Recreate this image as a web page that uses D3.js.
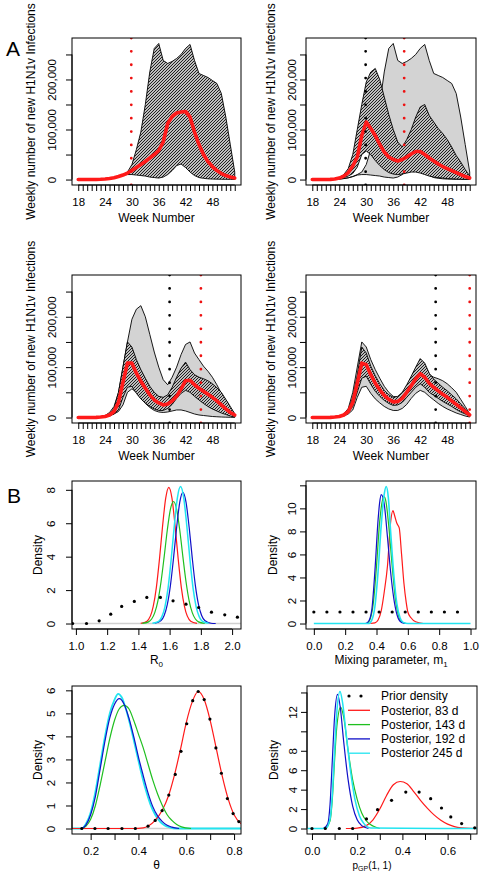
<!DOCTYPE html>
<html><head><meta charset="utf-8">
<script src="https://d3js.org/d3.v7.min.js"></script>
<style>html,body{margin:0;padding:0;background:#fff}svg{display:block}</style>
</head><body>
<svg id="chart" width="486" height="874"></svg>
<script>
// ================= DATA =================
const weeks = [18,19,20,21,22,23,24,25,26,27,28,29,30,31,32,33,34,35,36,37,38,39,40,41,42,43,44,45,46,47,48,49,50,51,52,53];
// weekly new infections, thousands
const fit1Med = [0,0,0,0,0.2,0.5,1,2,3.5,6,9,13,18,24,30,36,43,50,58,75,112,126,133,135,136,125,95,70,50,36,26,18,12,8,5,3];
const fit1Lo  = [0,0,0,0,0.2,0.5,1,2,3.5,6,9,10,10,9,8,7,5,4,3,5,10,18,28,31,24,15,8,4,2.5,1.5,1,0.8,0.6,0.5,0.4,0.3];
const fit1Hi  = [0,0,0,0,0.2,0.5,1,2,3.5,6,10,15,30,60,95,150,215,262,272,238,232,236,242,250,262,270,238,212,208,204,198,192,172,125,70,15];
const fit2Med = [0,0,0,0,0.3,1,3,7,14,27,45,88,115,102,88,70,55,45,40,37,40,45,51,56,56,50,43,37,31,26,22,18,14,10,6,3];
const fit2Lo  = [0,0,0,0,0.3,0.6,2,4,7,12,25,50,57,50,38,28,20,14,11,10,11,13,15,15,13,10,7,5,4,3,2,1.5,1,0.7,0.5,0.3];
const fit2Hi  = [0,0,0,0,0.3,1.5,4,10,22,50,100,150,195,215,222,200,165,130,100,75,65,80,100,125,145,150,128,115,102,92,80,65,48,35,20,7];
const fit3Med = [0,0,0,0,0.3,1,2,5,12,30,70,108,108,88,72,58,45,35,29,25,27,33,42,57,73,74,65,58,52,46,40,33,25,17,10,5];
const fit3Lo  = [0,0,0,0,0.3,0.7,1.5,3,7,15,40,60,62,48,37,29,22,17,14,14,18,26,38,48,54,50,42,35,28,22,17,13,9,6,3,1];
const fit3Hi  = [0,0,0,0,0.3,1.2,3,7,18,50,100,150,140,115,95,78,62,50,42,40,45,60,80,98,110,95,85,80,77,73,67,59,50,36,22,7];
const fit4Med = [0,0,0,0,0.3,1,2,5,12,30,68,108,105,85,68,55,44,36,31,32,38,50,63,77,87,80,68,60,53,46,40,33,26,19,12,5];
const fit4Lo  = [0,0,0,0,0.3,0.8,1.5,4,9,22,50,78,82,66,52,42,34,28,24,25,30,40,50,60,67,60,50,44,38,32,27,22,16,11,7,3];
const fit4Hi  = [0,0,0,0,0.3,1.2,2.5,6,15,40,85,140,128,102,83,67,54,45,40,42,50,65,82,100,117,108,88,76,68,60,53,45,37,27,17,7];
const cutWeeks = [29.86, 38.43, 45.43, 53.0];   // days 83, 143, 192, 245
const yTicksA = [0,50,100,150,200,250];
const yLabelsA = {0:"0",100:"100,000",200:"200,000"};
const xLabelsA = [18,24,30,36,42,48];

// Panel B
const r0PriorX = [0.979,1.068,1.149,1.223,1.293,1.374,1.454,1.541,1.622,1.705,1.786,1.868,1.953,2.034];
const r0PriorY = [0,0,0.16,0.56,1.02,1.32,1.56,1.56,1.36,1.16,0.96,0.68,0.52,0.38];
const r0RedX = [1.415,1.455,1.495,1.515,1.535,1.555,1.575,1.595,1.615,1.635,1.655,1.675,1.695,1.735,1.775];
const r0RedY = [0.01,0.14,1.02,2.15,3.85,5.84,7.50,8.15,7.50,5.84,3.85,2.15,1.02,0.14,0.01];
const r0GreenX = [1.425,1.465,1.485,1.505,1.525,1.545,1.565,1.585,1.605,1.625,1.645,1.665,1.685,1.705,1.725,1.745,1.765,1.785,1.825];
const r0GreenY = [0.01,0.10,0.27,0.65,1.36,2.50,3.99,5.58,6.83,7.30,6.83,5.58,3.99,2.50,1.36,0.65,0.27,0.10,0.01];
const r0BlueX = [1.505,1.545,1.565,1.585,1.605,1.625,1.645,1.665,1.685,1.705,1.725,1.745,1.765,1.785,1.805,1.825,1.865,1.895];
const r0BlueY = [0.015,0.18,0.48,1.13,2.27,3.91,5.76,7.26,7.85,7.26,5.76,3.91,2.27,1.13,0.48,0.18,0.015,0];
const r0CyanX = [1.49,1.53,1.55,1.57,1.59,1.61,1.63,1.65,1.67,1.69,1.71,1.73,1.75,1.77,1.79,1.81,1.85];
const r0CyanY = [0.01,0.13,0.40,1.0,2.12,3.84,5.85,7.54,8.2,7.54,5.85,3.84,2.12,1.0,0.40,0.13,0.01];

const m1PriorX = [0,0.0833,0.1667,0.25,0.3333,0.4167,0.5,0.5833,0.6667,0.75,0.8333,0.9167];
const m1PriorY = [1,1,1,1,1,1,1,1,1,1,1,1];
const m1RedX = [0.36,0.39,0.41,0.43,0.45,0.47,0.49,0.505,0.515,0.53,0.545,0.56,0.575,0.59,0.60,0.62,0.65,0.70];
const m1RedY = [0,0.05,0.3,1.1,2.8,5.0,8.8,9.8,9.4,8.7,8.3,6.0,3.5,1.8,1.0,0.5,0.15,0];
const m1GreenX = [0.34,0.36,0.38,0.40,0.42,0.44,0.45,0.46,0.48,0.50,0.52,0.54,0.56,0.59];
const m1GreenY = [0,0.4,1.8,5.0,8.8,10.8,11.0,10.6,8.2,5.0,2.2,0.7,0.15,0];
const m1BlueX = [0.33,0.35,0.37,0.39,0.41,0.42,0.43,0.44,0.45,0.47,0.49,0.51,0.53,0.55,0.58];
const m1BlueY = [0,0.2,1.2,4.6,9.0,10.5,11.2,11.0,10.3,7.5,4.5,2.2,0.8,0.2,0];
const m1CyanX = [0,0.35,0.37,0.39,0.41,0.43,0.45,0.462,0.475,0.49,0.51,0.53,0.55,0.57,0.60,1.0];
const m1CyanY = [0,0,0.3,1.5,4.5,8.5,11.3,11.9,11.0,8.0,4.3,1.7,0.5,0.1,0,0];

const thPriorX = [0.163,0.218,0.273,0.331,0.387,0.44,0.47,0.499,0.527,0.554,0.578,0.602,0.627,0.65,0.675,0.699,0.724,0.747,0.772,0.796,0.82];
const thPriorY = [0,0,0,0,0,0.1,0.35,0.78,1.45,2.35,3.35,4.55,5.55,5.95,5.6,4.75,3.5,2.4,1.3,0.65,0.3];
const thRedX = [0.12,0.30,0.38,0.42,0.44,0.47,0.50,0.525,0.55,0.575,0.60,0.625,0.65,0.675,0.70,0.725,0.75,0.775,0.80,0.83];
const thRedY = [0,0,0,0.03,0.1,0.35,0.8,1.4,2.3,3.4,4.6,5.5,5.95,5.6,4.7,3.5,2.3,1.3,0.6,0.2];
const thGreenX = [0.16,0.18,0.20,0.22,0.24,0.26,0.28,0.30,0.32,0.34,0.36,0.38,0.40,0.42,0.44,0.46,0.48,0.50,0.52,0.54,0.56,0.58,0.62];
const thGreenY = [0,0.1,0.4,1.0,1.9,2.9,3.9,4.7,5.2,5.35,5.2,4.7,4.1,3.5,2.8,2.1,1.5,1.0,0.6,0.35,0.17,0.07,0];
const thBlueX = [0.16,0.18,0.20,0.22,0.24,0.26,0.28,0.30,0.32,0.34,0.36,0.38,0.40,0.42,0.44,0.46,0.48,0.50,0.52,0.54,0.57];
const thBlueY = [0,0.15,0.6,1.4,2.6,3.8,4.8,5.4,5.64,5.4,4.8,4.0,3.1,2.3,1.55,0.95,0.55,0.3,0.14,0.06,0];
const thCyanX = [0.12,0.16,0.18,0.20,0.22,0.24,0.26,0.28,0.30,0.315,0.33,0.35,0.37,0.39,0.41,0.43,0.45,0.47,0.49,0.51,0.53,0.56,0.83];
const thCyanY = [0,0,0.2,0.7,1.6,2.8,4.0,5.0,5.6,5.85,5.7,5.1,4.3,3.4,2.5,1.7,1.05,0.6,0.3,0.13,0.05,0,0];

const pgPriorX = [0.0,0.059,0.121,0.18,0.241,0.29,0.352,0.415,0.474,0.525,0.573,0.614,0.662,0.72];
const pgPriorY = [0,0,0,0,0.99,1.94,2.9,3.75,3.75,3.07,2.11,1.19,0.51,0.07];
const pgRedX = [0.15,0.20,0.24,0.27,0.30,0.33,0.36,0.39,0.42,0.45,0.48,0.51,0.54,0.57,0.60,0.63,0.66,0.70,0.73];
const pgRedY = [0,0.05,0.3,0.9,2.0,3.4,4.5,4.84,4.6,3.8,2.9,2.1,1.4,0.85,0.45,0.2,0.07,0.01,0];
const pgGreenX = [0.06,0.08,0.09,0.10,0.11,0.127,0.14,0.16,0.18,0.20,0.22,0.24,0.27,0.30];
const pgGreenY = [0,0.8,3,7,10.5,12.5,11.5,8,5,3,1.6,0.8,0.25,0];
const pgBlueX = [0.05,0.07,0.08,0.09,0.10,0.113,0.125,0.14,0.16,0.18,0.20,0.22,0.25];
const pgBlueY = [0,0.5,2.5,7,11.5,13.8,12.5,9,5,2.3,0.9,0.3,0];
const pgCyanX = [-0.02,0.06,0.08,0.09,0.10,0.11,0.124,0.135,0.15,0.17,0.19,0.21,0.23,0.26,0.73];
const pgCyanY = [0,0,1.0,3.5,8,12,14.1,13,10,6,3,1.3,0.5,0.05,0];

const legendLabels = ["Prior density","Posterior, 83 d","Posterior, 143 d","Posterior, 192 d","Posterior 245 d"];

// ================= STYLE / LAYOUT =================
const FONT = "'Liberation Sans', Arial, Helvetica, sans-serif";
const COL = {red:"#ff1a1a", green:"#1fbf1f", blue:"#1010c8", cyan:"#22e4f0"};
const svg = d3.select("#chart").style("font-family", FONT);
const defs = svg.append("defs");
// pixel-aligned 45° hatch tile (no rotation -> no moire)
const pat = defs.append("pattern").attr("id","hatch").attr("patternUnits","userSpaceOnUse")
  .attr("width",3).attr("height",3);
pat.append("rect").attr("width",3).attr("height",3).attr("fill","#fff");
pat.append("path").attr("d","M-1,1 L1,-1 M0,3 L3,0 M2,4 L4,2").attr("stroke","#111").attr("stroke-width",1.05);

const pad = ([a,b]) => [a-(b-a)*0.04, b+(b-a)*0.04];
let clipId = 0;

function frame(g, box){
  g.append("rect").attr("x",box.x0).attr("y",box.y0).attr("width",box.x1-box.x0).attr("height",box.y1-box.y0)
   .attr("fill","none").attr("stroke","#000").attr("stroke-width",1);
}
function clipFor(box){
  const id = "clip"+(clipId++);
  defs.append("clipPath").attr("id",id).append("rect").attr("x",box.x0).attr("y",box.y0)
    .attr("width",box.x1-box.x0).attr("height",box.y1-box.y0);
  return "url(#"+id+")";
}
function yAxisRot(g, y, box, ticks, labelFn, off){
  const ax = g.append("g").attr("transform",`translate(${box.x0},0)`)
    .call(d3.axisLeft(y).tickValues(ticks).tickSize(6).tickSizeOuter(0).tickFormat(labelFn));
  ax.select(".domain").remove();
  ax.selectAll(".tick line").attr("stroke","#000");
  ax.selectAll(".tick text").attr("transform","rotate(-90)").attr("x",0).attr("y",-off).attr("dy",0)
    .attr("text-anchor","middle").attr("fill","#000").style("font-size","11.5px").style("font-family",FONT);
  g.append("line").attr("x1",box.x0).attr("x2",box.x0).attr("y1",y(ticks[0])).attr("y2",y(ticks[ticks.length-1])).attr("stroke","#000");
}
function xAxis(g, x, box, ticks, labelFn, tickLen){
  const ax = g.append("g").attr("transform",`translate(0,${box.y1})`)
    .call(d3.axisBottom(x).tickValues(ticks).tickSize(tickLen).tickSizeOuter(0).tickFormat(labelFn));
  ax.select(".domain").remove();
  ax.selectAll(".tick line").attr("stroke","#000");
  ax.selectAll(".tick text").attr("y",13).attr("dy","0.71em").attr("fill","#000").style("font-size","11.5px").style("font-family",FONT);
}

// ================= PANEL A =================
function panelA(box, gray, hatch, med, blackCut, redCut, offs){
  const x = d3.scaleLinear().domain(pad([weeks[0], weeks[weeks.length-1]])).range([box.x0, box.x1]);
  const y = d3.scaleLinear().domain(pad([0, 272])).range([box.y1, box.y0]);
  const g = svg.append("g");
  const inner = g.append("g").attr("clip-path", clipFor(box));
  const area = d3.area().x((d,i)=>x(weeks[i])).y0(d=>y(d[0])).y1(d=>y(d[1]));
  if (gray){
    inner.append("path").attr("d", area(gray[0].map((v,i)=>[v, gray[1][i]])))
      .attr("fill","#d3d3d3").attr("stroke","#000").attr("stroke-width",0.9);
  }
  inner.append("path").attr("d", area(hatch[0].map((v,i)=>[v, hatch[1][i]])))
    .attr("fill","url(#hatch)").attr("stroke","#000").attr("stroke-width",0.9);
  const line = d3.line().x((d,i)=>x(weeks[i])).y(d=>y(d));
  inner.append("path").attr("d", line(med)).attr("fill","none").attr("stroke",COL.red)
    .attr("stroke-width",3.6).attr("stroke-linejoin","round").attr("stroke-linecap","round");
  const dotted = (wk, col) => {
    const h = box.y1 - box.y0;
    inner.append("line").attr("x1",x(wk)).attr("x2",x(wk)).attr("y1",box.y0).attr("y2",box.y1+1)
      .attr("stroke",col).attr("stroke-width",2.8).attr("stroke-linecap","round")
      .attr("stroke-dasharray",`0 ${h/11}`);
  };
  if (blackCut!=null) dotted(blackCut, "#000");
  dotted(redCut, "#ee1111");
  frame(g, box);
  yAxisRot(g, y, box, yTicksA, d => yLabelsA[d] || "", offs.lab);
  xAxis(g, x, box, weeks, d => xLabelsA.includes(d) ? d : "", 6);
  g.append("line").attr("x1",x(weeks[0])).attr("x2",x(weeks[weeks.length-1])).attr("y1",box.y1).attr("y2",box.y1).attr("stroke","#000");
  g.append("text").attr("x",(box.x0+box.x1)/2).attr("y",box.y1+37).attr("text-anchor","middle")
    .style("font-size","12px").text("Week Number");
  g.append("text").attr("transform",`translate(${box.x0-offs.title},${(box.y0+box.y1)/2}) rotate(-90)`)
    .attr("text-anchor","middle").style("font-size","12px").text("Weekly number of new H1N1v Infections");
}

const colX = [{x0:72,x1:241},{x0:306,x1:476}];
const offL = {lab:16, title:37}, offR = {lab:10, title:31};
panelA({...colX[0], y0:38, y1:185}, null, [fit1Lo, fit1Hi], fit1Med, null, cutWeeks[0], offL);
panelA({...colX[1], y0:38, y1:185}, [fit1Lo, fit1Hi], [fit2Lo, fit2Hi], fit2Med, cutWeeks[0], cutWeeks[1], offR);
panelA({...colX[0], y0:275, y1:423}, [fit2Lo, fit2Hi], [fit3Lo, fit3Hi], fit3Med, cutWeeks[1], cutWeeks[2], offL);
panelA({...colX[1], y0:275, y1:423}, [fit3Lo, fit3Hi], [fit4Lo, fit4Hi], fit4Med, cutWeeks[2], cutWeeks[3], offR);

svg.append("text").attr("x",13).attr("y",56).attr("text-anchor","middle").style("font-size","21px").text("A");
svg.append("text").attr("x",14).attr("y",503).attr("text-anchor","middle").style("font-size","21px").text("B");

// ================= PANEL B =================
function panelB(opt){
  const box = opt.box;
  const x = d3.scaleLinear().domain(opt.xDom).range([box.x0, box.x1]);
  const y = d3.scaleLinear().domain(pad([0, opt.yMax])).range([box.y1, box.y0]);
  const g = svg.append("g");
  const inner = g.append("g").attr("clip-path", clipFor(box));
  if (opt.zeroLine) inner.append("line").attr("x1",box.x0).attr("x2",box.x1).attr("y1",y(0)).attr("y2",y(0))
     .attr("stroke",opt.zeroLine).attr("stroke-width",1.4);
  const line = d3.line().x(d=>x(d[0])).y(d=>y(d[1])).curve(d3.curveMonotoneX);
  opt.curves.forEach(c => {
    inner.append("path").attr("d", line(c.x.map((v,i)=>[v, c.y[i]]))).attr("fill","none")
      .attr("stroke",c.col).attr("stroke-width",c.w||1.2).attr("stroke-linejoin","round");
  });
  inner.selectAll("circle.p").data(opt.prior[0].map((v,i)=>[v, opt.prior[1][i]])).enter().append("circle")
    .attr("cx",d=>x(d[0])).attr("cy",d=>y(d[1])).attr("r",1.6).attr("fill","#000");
  frame(g, box);
  yAxisRot(g, y, box, opt.yTicks, d => opt.yLabels.includes(d) ? d : "", opt.offs.lab);
  xAxis(g, x, box, opt.xTicks, d => opt.xLabels.includes(d) ? d3.format(".1f")(d) : "", 6);
  g.append("line").attr("x1",x(opt.xTicks[0])).attr("x2",x(opt.xTicks[opt.xTicks.length-1])).attr("y1",box.y1).attr("y2",box.y1).attr("stroke","#000");
  g.append("text").attr("transform",`translate(${box.x0-opt.offs.title},${(box.y0+box.y1)/2}) rotate(-90)`)
    .attr("text-anchor","middle").style("font-size","12px").text("Density");
  opt.xTitle(g.append("text").attr("x",opt.titleX || (box.x0+box.x1)/2).attr("y",box.y1+35).attr("text-anchor","middle").style("font-size","12px"));
  return {x, y, g};
}

const offBL = {lab:17, title:30}, offBR = {lab:10, title:29};
panelB({box:{x0:72,x1:241,y0:481,y1:629}, xDom:[0.975,2.057], yMax:8.2, offs:offBL,
  xTicks:[1.0,1.2,1.4,1.6,1.8,2.0], xLabels:[1.0,1.2,1.4,1.6,1.8,2.0],
  yTicks:[0,2,4,6,8], yLabels:[0,2,4,6,8], zeroLine:"#d0d0d0",
  prior:[r0PriorX, r0PriorY],
  curves:[{x:r0RedX,y:r0RedY,col:COL.red},{x:r0GreenX,y:r0GreenY,col:COL.green},{x:r0BlueX,y:r0BlueY,col:COL.blue},{x:r0CyanX,y:r0CyanY,col:COL.cyan,w:1.5}],
  xTitle: t => { t.append("tspan").text("R"); t.append("tspan").attr("dy",3).style("font-size","8px").text("0"); }
});
panelB({box:{x0:306,x1:476,y0:481,y1:629}, xDom:[-0.05,1.035], yMax:11.9, offs:offBR,
  xTicks:[0,0.2,0.4,0.6,0.8,1.0], xLabels:[0,0.2,0.4,0.6,0.8,1.0],
  yTicks:[0,2,4,6,8,10,12], yLabels:[0,2,4,6,8,10], zeroLine:null,
  prior:[m1PriorX, m1PriorY],
  curves:[{x:m1RedX,y:m1RedY,col:COL.red},{x:m1GreenX,y:m1GreenY,col:COL.green},{x:m1BlueX,y:m1BlueY,col:COL.blue},{x:m1CyanX,y:m1CyanY,col:COL.cyan,w:1.6}],
  xTitle: t => { t.append("tspan").text("Mixing parameter, m"); t.append("tspan").attr("dy",3).style("font-size","8px").text("1"); }
});
panelB({box:{x0:72,x1:241,y0:686,y1:834}, xDom:[0.122,0.829], yMax:5.95, offs:offBL,
  xTicks:[0.2,0.3,0.4,0.5,0.6,0.7,0.8], xLabels:[0.2,0.4,0.6,0.8],
  yTicks:[0,1,2,3,4,5,6], yLabels:[0,1,2,3,4,5,6], zeroLine:"#d0d0d0",
  prior:[thPriorX, thPriorY],
  curves:[{x:thCyanX,y:thCyanY,col:COL.cyan,w:1.8},{x:thRedX,y:thRedY,col:COL.red},{x:thGreenX,y:thGreenY,col:COL.green},{x:thBlueX,y:thBlueY,col:COL.blue}],
  xTitle: t => { t.text("θ"); }
});
panelB({box:{x0:307,x1:477,y0:686,y1:834}, xDom:[-0.022,0.73], yMax:14.1, offs:offBR, titleX:372,
  xTicks:[0,0.1,0.2,0.3,0.4,0.5,0.6,0.7], xLabels:[0,0.2,0.4,0.6],
  yTicks:[0,2,4,6,8,10,12,14], yLabels:[0,2,4,6,8,12], zeroLine:null,
  prior:[pgPriorX, pgPriorY],
  curves:[{x:pgRedX,y:pgRedY,col:COL.red},{x:pgGreenX,y:pgGreenY,col:COL.green},{x:pgBlueX,y:pgBlueY,col:COL.blue},{x:pgCyanX,y:pgCyanY,col:COL.cyan,w:1.5}],
  xTitle: t => { t.style("font-size","10px"); t.append("tspan").text("p"); t.append("tspan").attr("dy",2).style("font-size","7px").text("GP"); t.append("tspan").attr("dy",-2).text("(1, 1)"); }
});

// legend
const legCols = ["#000", COL.red, COL.green, COL.blue, COL.cyan];
const lg = svg.append("g");
legendLabels.forEach((lab,i)=>{
  const yy = 696 + i*14.3;
  if (i===0){
    lg.append("circle").attr("cx",349).attr("cy",yy).attr("r",1.6).attr("fill","#000");
    lg.append("circle").attr("cx",361).attr("cy",yy).attr("r",1.6).attr("fill","#000");
  } else {
    lg.append("line").attr("x1",348).attr("x2",370).attr("y1",yy).attr("y2",yy).attr("stroke",legCols[i]).attr("stroke-width",1.3);
  }
  lg.append("text").attr("x",381).attr("y",yy).attr("dy","0.35em").style("font-size","12px").text(lab);
});
</script>
</body></html>
